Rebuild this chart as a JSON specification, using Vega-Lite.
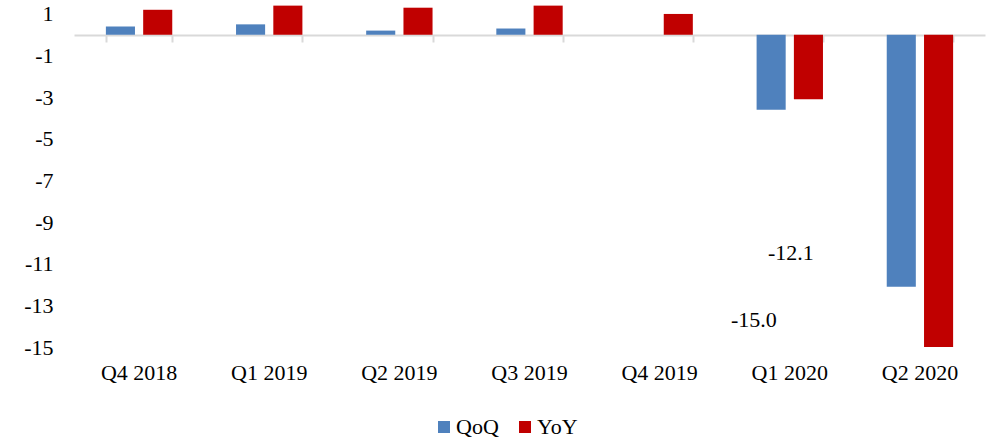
{
  "$schema": "https://vega.github.io/schema/vega-lite/v6.json",
  "width": 911,
  "height": 347,
  "autosize": "none",
  "padding": {"left": 74, "top": 0, "right": 11, "bottom": 96},
  "background": "white",
  "config": {
    "view": {"stroke": null},
    "font": "Liberation Serif",
    "locale": {"number": {"decimal": ".", "thousands": ",", "grouping": [3], "currency": ["$", ""], "minus": "-"}},
    "axis": {"labelFont": "Liberation Serif", "labelFontSize": 22, "labelColor": "#000000", "grid": false, "title": null},
    "legend": {"labelFont": "Liberation Serif", "labelFontSize": 22, "labelColor": "#000000"}
  },
  "data": {
    "values": [
      {"quarter": "Q4 2018", "series": "QoQ", "value": 0.4},
      {"quarter": "Q4 2018", "series": "YoY", "value": 1.2},
      {"quarter": "Q1 2019", "series": "QoQ", "value": 0.5},
      {"quarter": "Q1 2019", "series": "YoY", "value": 1.4},
      {"quarter": "Q2 2019", "series": "QoQ", "value": 0.2},
      {"quarter": "Q2 2019", "series": "YoY", "value": 1.3},
      {"quarter": "Q3 2019", "series": "QoQ", "value": 0.3},
      {"quarter": "Q3 2019", "series": "YoY", "value": 1.4},
      {"quarter": "Q4 2019", "series": "QoQ", "value": 0.0},
      {"quarter": "Q4 2019", "series": "YoY", "value": 1.0},
      {"quarter": "Q1 2020", "series": "QoQ", "value": -3.6},
      {"quarter": "Q1 2020", "series": "YoY", "value": -3.1},
      {"quarter": "Q2 2020", "series": "QoQ", "value": -12.1},
      {"quarter": "Q2 2020", "series": "YoY", "value": -15.0}
    ]
  },
  "encoding": {
    "x": {
      "field": "quarter", "type": "nominal", "sort": null,
      "scale": {"paddingInner": 0.49, "paddingOuter": 0.245}
    },
    "y": {
      "field": "value", "type": "quantitative",
      "scale": {"domain": [-15, 1.67], "nice": false, "zero": false},
      "axis": {"values": [1, -1, -3, -5, -7, -9, -11, -13, -15], "domain": false, "ticks": false, "labelPadding": 21, "format": "d"}
    }
  },
  "layer": [
    {
      "mark": {"type": "bar"},
      "encoding": {
        "x": {
          "field": "quarter", "type": "nominal", "sort": null,
          "axis": {"orient": "bottom", "domain": false, "ticks": false, "labelAngle": 0, "labelPadding": 15}
        },
        "xOffset": {"field": "series", "type": "nominal", "scale": {"paddingInner": 0.22, "paddingOuter": 0}},
        "y": {"field": "value", "type": "quantitative"},
        "y2": {"datum": 0},
        "color": {
          "field": "series", "type": "nominal",
          "scale": {"domain": ["QoQ", "YoY"], "range": ["#4F81BD", "#C00000"]},
          "legend": {"orient": "none", "legendX": 359, "legendY": 416, "direction": "horizontal", "title": null, "symbolType": "square", "symbolSize": 144, "symbolStrokeWidth": 0, "columnPadding": 15, "labelOffset": 1}
        }
      }
    },
    {
      "mark": {"type": "tick", "opacity": 0},
      "encoding": {
        "x": {
          "field": "quarter", "type": "nominal", "sort": null,
          "axis": {"orient": "top", "offset": -35, "labels": false, "domain": true, "domainColor": "#d9d9d9", "domainWidth": 2, "ticks": true, "tickColor": "#d9d9d9", "tickWidth": 2, "tickSize": -7, "tickBand": "extent"}
        }
      }
    },
    {
      "transform": [{"filter": "datum.quarter == 'Q2 2020' && datum.series == 'QoQ'"}],
      "mark": {"type": "text", "fontSize": 22, "font": "Liberation Serif", "color": "#000000", "dx": -129, "dy": -34},
      "encoding": {
        "x": {"field": "quarter", "type": "nominal", "sort": null, "axis": null},
        "text": {"field": "value", "type": "quantitative", "format": ".1f"}
      }
    },
    {
      "transform": [{"filter": "datum.quarter == 'Q2 2020' && datum.series == 'YoY'"}],
      "mark": {"type": "text", "fontSize": 22, "font": "Liberation Serif", "color": "#000000", "dx": -166, "dy": -27},
      "encoding": {
        "x": {"field": "quarter", "type": "nominal", "sort": null, "axis": null},
        "text": {"field": "value", "type": "quantitative", "format": ".1f"}
      }
    }
  ],
  "resolve": {"axis": {"x": "independent"}}
}
